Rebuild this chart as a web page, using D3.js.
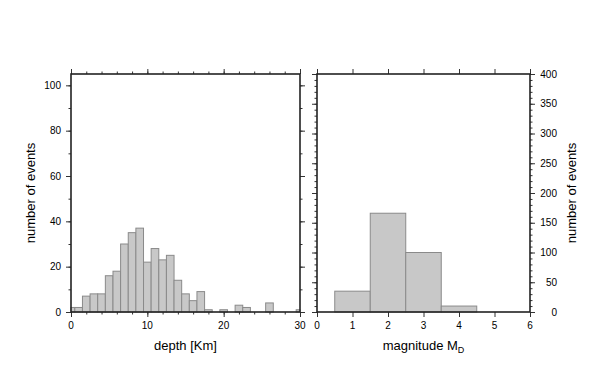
<!DOCTYPE html>
<html>
<head>
<meta charset="utf-8">
<script src="https://cdn.jsdelivr.net/npm/d3@7"></script>
<style>
  body { margin: 0; background: #fff; }
  svg { font-family: "Liberation Sans", Helvetica, Arial, sans-serif; }
  .bar { fill: #c8c8c8; stroke: #8a8a8a; stroke-width: 1; }
  .tick line { stroke: #333; }
</style>
</head>
<body>
<svg id="chart" width="602" height="383"></svg>
<script>
// depth histogram: 1 km bins centred on whole km
var depthCenters = d3.range(0, 31);
var depthCounts = [2, 2, 7, 8, 8, 16, 18, 30, 35, 37, 22, 28, 23, 25, 14, 8, 5, 9, 1, 0, 1, 0, 3, 2, 0, 0, 4, 0, 0, 0, 1];
var depthTicks = [0, 10, 20, 30];
var depthCountTicks = [0, 20, 40, 60, 80, 100];

// magnitude histogram
var magCenters = [1, 2, 3, 4];
var magCounts = [35, 166, 100, 10];
var magTicks = [0, 1, 2, 3, 4, 5, 6];
var magCountTicks = [0, 50, 100, 150, 200, 250, 300, 350, 400];

var svg = d3.select("#chart");
var plotTop = 74, plotBottom = 312;

// scales for both panels
var xDepth = d3.scaleLinear().domain([0, 30]).range([71, 300]);
var yDepth = d3.scaleLinear().domain([0, 105]).range([plotBottom, plotTop]);
var xMag = d3.scaleLinear().domain([0, 6]).range([317, 530]);
var yMag = d3.scaleLinear().domain([0, 400]).range([plotBottom, plotTop]);

// draw bars, clipping each bin to the axis domain
function drawBars(centers, counts, x, y) {
    var dom = x.domain();
    svg.append("g").selectAll("rect")
        .data(centers.map((c, i) => ({ c: c, n: counts[i] })).filter(d => d.n > 0))
        .join("rect")
        .attr("class", "bar")
        .attr("x", d => x(Math.max(dom[0], d.c - 0.5)))
        .attr("width", d => x(Math.min(dom[1], d.c + 0.5)) - x(Math.max(dom[0], d.c - 0.5)))
        .attr("y", d => y(d.n))
        .attr("height", d => y(0) - y(d.n));
}

// tick marks only (no labels), placed on a side of the frame
function ticks(axisFn, scale, values, size, transform) {
    var g = svg.append("g")
        .attr("transform", transform)
        .call(axisFn(scale).tickValues(values).tickSize(size).tickFormat(""));
    g.select(".domain").remove();
    return g;
}

drawBars(depthCenters, depthCounts, xDepth, yDepth);
drawBars(magCenters, magCounts, xMag, yMag);

// ---- left panel ticks
ticks(d3.axisBottom, xDepth, d3.range(0, 31, 2), 2.5, `translate(0,${plotBottom})`);
ticks(d3.axisBottom, xDepth, depthTicks, 5, `translate(0,${plotBottom})`);
ticks(d3.axisTop, xDepth, d3.range(0, 31, 2), 2.5, `translate(0,${plotTop})`);
ticks(d3.axisTop, xDepth, depthTicks, 5, `translate(0,${plotTop})`);
ticks(d3.axisLeft, yDepth, d3.range(0, 101, 10), 2.5, `translate(71,0)`);
ticks(d3.axisLeft, yDepth, depthCountTicks, 5, `translate(71,0)`);
ticks(d3.axisRight, yDepth, d3.range(0, 101, 10), 2.5, `translate(300,0)`);
ticks(d3.axisRight, yDepth, depthCountTicks, 5, `translate(300,0)`);

// ---- right panel ticks
ticks(d3.axisBottom, xMag, magTicks, 5, `translate(0,${plotBottom})`);
ticks(d3.axisTop, xMag, magTicks, 5, `translate(0,${plotTop})`);
ticks(d3.axisLeft, yMag, d3.range(0, 401, 10), 2.5, `translate(317,0)`);
ticks(d3.axisLeft, yMag, magCountTicks, 5, `translate(317,0)`);
ticks(d3.axisRight, yMag, d3.range(0, 401, 10), 2.5, `translate(530,0)`);
ticks(d3.axisRight, yMag, magCountTicks, 5, `translate(530,0)`);

// frames
[[xDepth, yDepth], [xMag, yMag]].forEach(function (p) {
    svg.append("rect")
        .attr("x", p[0].range()[0]).attr("y", plotTop)
        .attr("width", p[0].range()[1] - p[0].range()[0])
        .attr("height", plotBottom - plotTop)
        .attr("fill", "none").attr("stroke", "#222").attr("stroke-width", 1.6);
});

// tick labels
var fs = "10px";
svg.append("g").selectAll("text").data(depthTicks).join("text")
    .attr("x", d => xDepth(d)).attr("y", 329)
    .attr("text-anchor", "middle").style("font-size", fs).text(d => d);
svg.append("g").selectAll("text").data(depthCountTicks).join("text")
    .attr("x", 61).attr("y", d => yDepth(d) + 3.5)
    .attr("text-anchor", "end").style("font-size", fs).text(d => d);
svg.append("g").selectAll("text").data(magTicks).join("text")
    .attr("x", d => xMag(d)).attr("y", 329)
    .attr("text-anchor", "middle").style("font-size", fs).text(d => d);
svg.append("g").selectAll("text").data(magCountTicks).join("text")
    .attr("x", 557).attr("y", d => yMag(d) + 3.5)
    .attr("text-anchor", "end").style("font-size", fs).text(d => d);

// axis titles
svg.append("text")
    .attr("x", xDepth(15)).attr("y", 350)
    .attr("text-anchor", "middle").style("font-size", "13px")
    .text("depth [Km]");

var mt = svg.append("text")
    .attr("x", xMag(3)).attr("y", 350)
    .attr("text-anchor", "middle").style("font-size", "13px");
mt.append("tspan").text("magnitude M");
mt.append("tspan").attr("dy", 3).style("font-size", "9px").text("D");

svg.append("text")
    .attr("transform", `translate(35,${(plotTop + plotBottom) / 2}) rotate(-90)`)
    .attr("text-anchor", "middle").style("font-size", "13px")
    .text("number of events");
svg.append("text")
    .attr("transform", `translate(576,${(plotTop + plotBottom) / 2}) rotate(-90)`)
    .attr("text-anchor", "middle").style("font-size", "13px")
    .text("number of events");
</script>
</body>
</html>
